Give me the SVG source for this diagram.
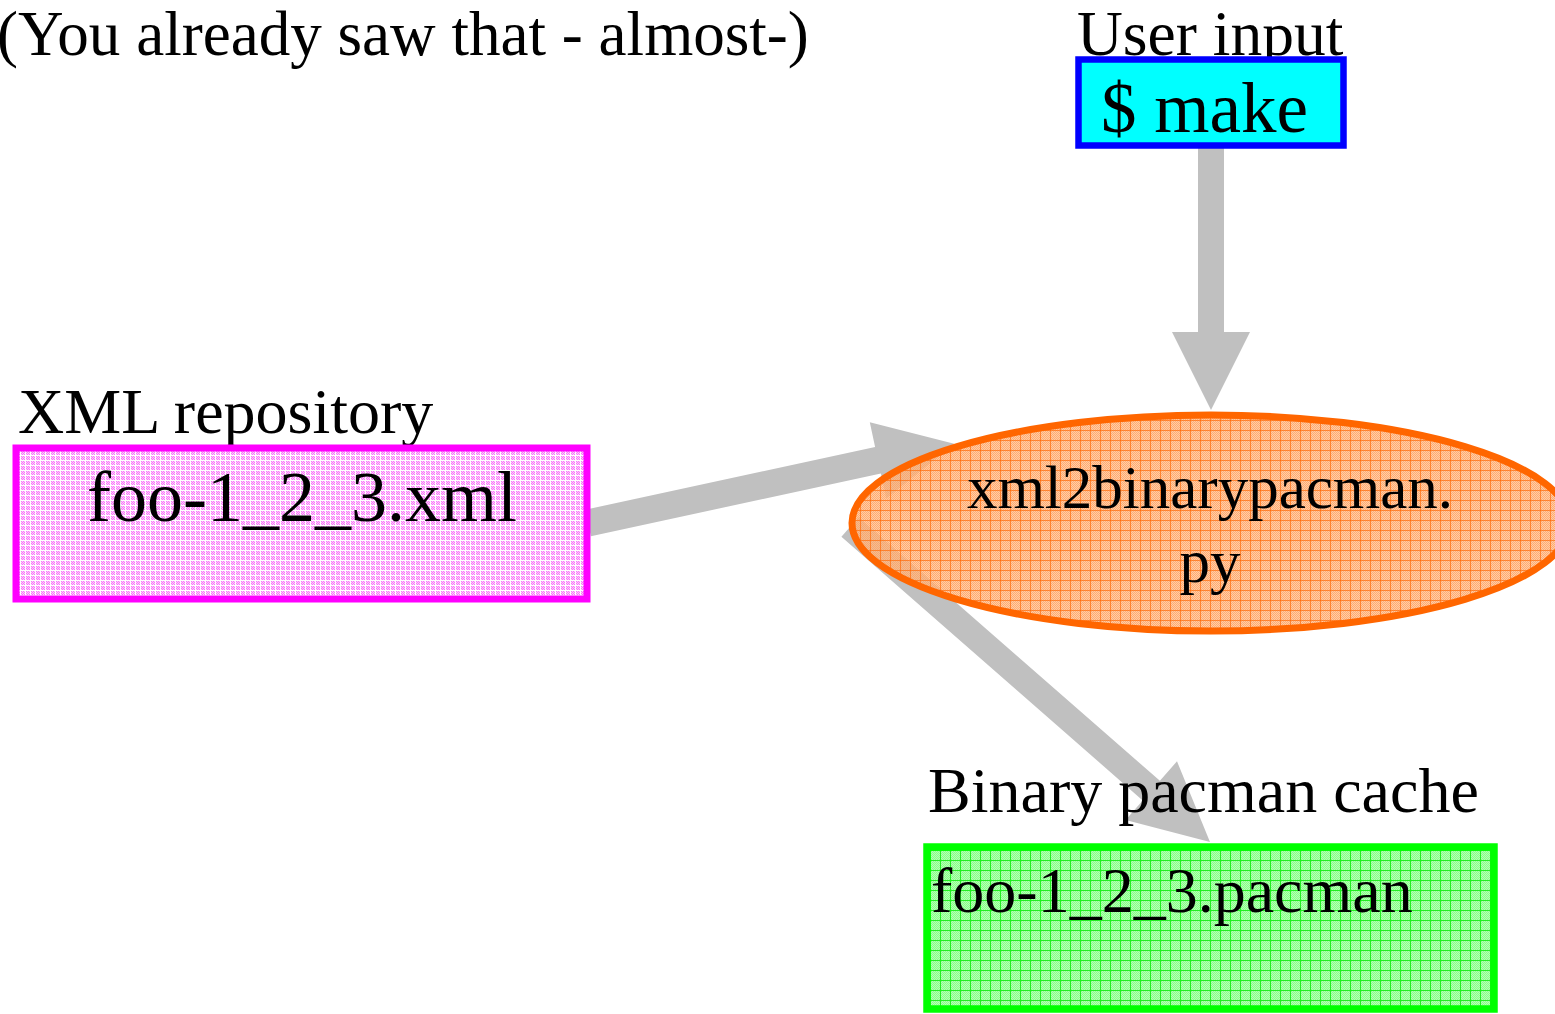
<svg xmlns="http://www.w3.org/2000/svg" width="1555" height="1014" viewBox="0 0 1555 1014">
  <style>
    text { font-family: "Liberation Serif", "Times New Roman", serif; fill: #000; }
    .lbl { font-size: 64px; }
    .conn { fill: #c0c0c0; stroke: none; }
  </style>
  <defs>
    <!-- fine checker textures -->
    <pattern id="chkPink" width="2" height="2" patternUnits="userSpaceOnUse">
      <rect width="2" height="2" fill="#ffc8ff"/>
      <rect width="1" height="1" fill="#f77cf7"/>
      <rect x="1" y="1" width="1" height="1" fill="#f77cf7"/>
    </pattern>
    <pattern id="chkOrange" width="2" height="2" patternUnits="userSpaceOnUse">
      <rect width="2" height="2" fill="#ffbc88" fill-opacity="0.75"/>
      <rect width="1" height="1" fill="#ffa060" fill-opacity="0.75"/>
      <rect x="1" y="1" width="1" height="1" fill="#ffa060" fill-opacity="0.75"/>
    </pattern>
    <pattern id="chkGreen" width="2" height="2" patternUnits="userSpaceOnUse">
      <rect width="2" height="2" fill="#b4ffb4"/>
      <rect width="1" height="1" fill="#88ff88"/>
      <rect x="1" y="1" width="1" height="1" fill="#88ff88"/>
    </pattern>
    <!-- grid fills -->
    <pattern id="gridPink" width="5" height="5" patternUnits="userSpaceOnUse">
      <rect width="5" height="5" fill="url(#chkPink)"/>
      <rect width="5" height="1" fill="#ffffff"/>
      <rect width="1" height="5" fill="#ffffff"/>
    </pattern>
    <pattern id="gridOrange" width="10" height="10" patternUnits="userSpaceOnUse">
      <rect width="10" height="10" fill="url(#chkOrange)"/>
      <rect width="10" height="1" fill="#ff6600" fill-opacity="0.65"/>
      <rect width="1" height="10" fill="#ff6600" fill-opacity="0.65"/>
    </pattern>
    <pattern id="gridGreen" width="10" height="10" patternUnits="userSpaceOnUse">
      <rect width="10" height="10" fill="url(#chkGreen)"/>
      <rect width="10" height="1" fill="#22ee22"/>
      <rect width="1" height="10" fill="#22ee22"/>
    </pattern>
  </defs>

  <rect width="1555" height="1014" fill="#ffffff"/>

  <!-- connectors -->
  <g id="connectors">
    <polygon id="edge-xml-script" class="conn" points="585.1,509.8 875.1,447.1 869.8,422.2 954.2,443.8 886.2,498.4 880.9,473.5 590.9,536.2"/>
    <polygon id="edge-make-script" class="conn" points="1198,148 1224,148 1224,332 1250,332 1211,410 1172,332 1198,332"/>
    <polygon id="edge-script-cache" class="conn" points="858.6,517.2 1159.9,780.8 1177.0,761.3 1210,842 1125.6,819.9 1142.7,800.4 841.4,536.8"/>
  </g>

  <!-- caption -->
  <g id="caption">
    <text x="-3" y="55" font-size="63.1">(You already saw that - almost-)</text>
  </g>

  <!-- user input node -->
  <g id="node-make">
    <text x="1077" y="55" font-size="63.5">User input</text>
    <rect x="1078.5" y="59.5" width="265" height="86" fill="#00ffff" stroke="#0000ff" stroke-width="6.5"/>
    <text x="1101" y="132" font-size="71">$ make</text>
  </g>

  <!-- XML repository node -->
  <g id="node-xml">
    <text class="lbl" x="18" y="433">XML repository</text>
    <rect x="16" y="448" width="571" height="151" fill="url(#gridPink)" stroke="#ff00ff" stroke-width="7"/>
    <text x="302" y="521" font-size="72" text-anchor="middle">foo-1_2_3.xml</text>
  </g>

  <!-- converter script node -->
  <g id="node-script">
    <ellipse cx="1211" cy="523" rx="359" ry="108" fill="url(#gridOrange)" stroke="#ff6600" stroke-width="7"/>
    <text x="1210" y="508" font-size="61" text-anchor="middle">xml2binarypacman.</text>
    <text x="1210" y="582" font-size="61" text-anchor="middle">py</text>
  </g>

  <!-- binary cache node -->
  <g id="node-cache">
    <text class="lbl" x="928" y="812">Binary pacman cache</text>
    <rect x="927" y="847" width="567" height="162" fill="url(#gridGreen)" stroke="#00ff00" stroke-width="7.5"/>
    <text x="931" y="912" font-size="64">foo-1_2_3.pacman</text>
  </g>
</svg>
